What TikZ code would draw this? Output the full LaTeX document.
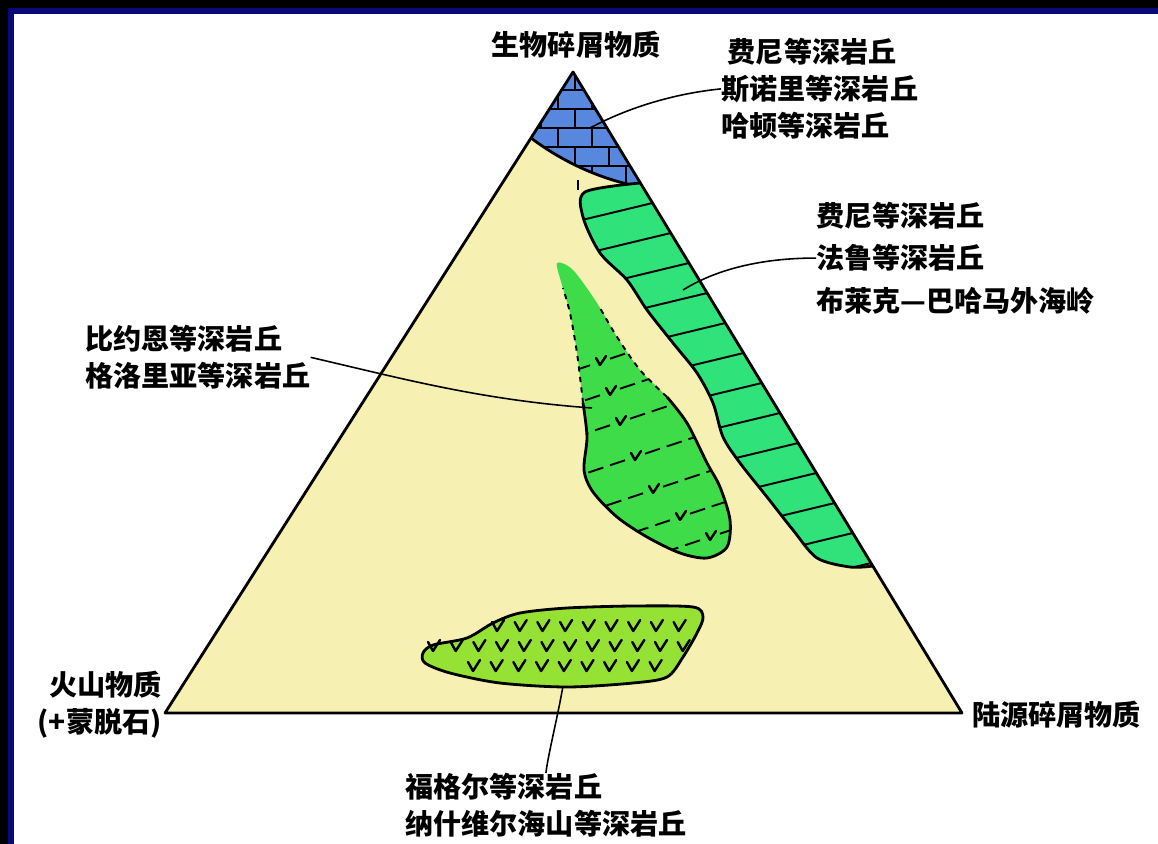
\documentclass[tikz,border=0pt]{standalone}
\usepackage{fontspec}
\newfontfamily\cjk{Noto Sans CJK SC}
\definecolor{sand}{RGB}{246,240,178}
\definecolor{brick}{RGB}{88,136,222}
\definecolor{bandgreen}{RGB}{48,226,122}
\definecolor{lobegreen}{RGB}{62,220,72}
\definecolor{limegreen}{RGB}{150,226,52}
\definecolor{framenavy}{RGB}{8,8,120}

\begin{document}
\begin{tikzpicture}[x=0.02cm, y=-0.02cm,
	lbl/.style={font=\fontsize{16}{21}\selectfont\cjk\bfseries, inner sep=0pt, align=left},
	edge/.style={line width=1.6pt, line join=round},
	thinedge/.style={line width=1.1pt},
	lead/.style={line width=0.9pt},
	vtick/.style={line width=1.4pt, line join=round, line cap=round}]
	\useasboundingbox (0,0) rectangle (1158,844);
	\fill[white] (0,0) rectangle (1158,844);
	% frame
	\fill[black] (0,0) rectangle (1158,8);
	\fill[black] (0,0) rectangle (8,844);
	\fill[framenavy] (8,8) rectangle (1158,14);
	\fill[framenavy] (8,8) rectangle (14,844);
	% triangle
	\fill[sand] (573,72) -- (962,713) -- (165,713) -- cycle;
	% bricks at the top
	\fill[brick] (573,72) -- (642,187) .. controls (600,180) and (560,160) .. (531,138) -- cycle;
	\begin{scope}
		\clip (573,72) -- (642,187) .. controls (600,180) and (560,160) .. (531,138) -- cycle;
		\foreach \r [count=\i] in {90,109,...,204}
		{\draw[thinedge] (500,\r) -- (700,\r);
		 \pgfmathsetmacro\off{mod(\i,2)*17}
		 \foreach \c in {490,524,...,700}
		 {\draw[thinedge] (\c+\off,\r) -- (\c+\off,\r-19);}}
	\end{scope}
	\draw[edge] (642,187) .. controls (600,180) and (560,160) .. (531,138);
	\draw[thinedge] (578,180) -- (578,190);
	% band along the right side
	\def\bandpath{plot[smooth] coordinates {(640,183) (585,192) (583,217) (600,253) (627,280) (647,310) (673,343) (697,373) (713,403) (723,437) (740,463) (767,497) (793,530) (817,558) (850,567) (873,566)} -- cycle}
	\fill[bandgreen] \bandpath;
	\begin{scope}
		\clip \bandpath;
		\foreach \s in {203,233,...,563}
		{\draw[thinedge] ({573+0.607*(\s-72)+10},\s-2.4) -- ++(-220,53);}
	\end{scope}
	\draw[edge] plot[smooth] coordinates {(640,183) (585,192) (583,217) (600,253) (627,280) (647,310) (673,343) (697,373) (713,403) (723,437) (740,463) (767,497) (793,530) (817,558) (850,567) (873,566)};
	% lobe in the middle
	\def\lobepath{plot[smooth cycle] coordinates {(557,263) (562,285) (570,313) (577,353) (583,403) (587,437) (584,470) (593,492) (617,517) (647,537) (680,553) (707,558) (727,547) (730,520) (720,487) (707,463) (687,423) (667,397) (640,370) (617,337) (597,303) (573,270)}}
	\fill[lobegreen] \lobepath;
	\begin{scope}
		\clip \lobepath;
		\foreach \x/\y in {600/362, 610/392, 620/422, 635/457, 653/490, 680/517, 710/537}
		{\draw[thinedge, dash pattern=on 9pt off 4pt] (\x-90,\y+30) -- (\x-10,\y+3.3);
		 \draw[thinedge, dash pattern=on 9pt off 4pt] (\x+10,\y-3.3) -- (\x+170,\y-56.7);
		 \draw[vtick] (\x-4,\y-4) -- (\x,\y+3) -- (\x+6,\y-6);}
	\end{scope}
	\draw[edge] plot[smooth] coordinates {(583,403) (587,437) (584,470) (593,492) (617,517) (647,537) (680,553) (707,558) (727,547) (730,520) (720,487) (707,463) (687,423) (667,397)};
	\draw[thinedge, dashed] plot[smooth] coordinates {(583,403) (577,353) (570,313) (563,288)};
	\draw[thinedge, dashed] plot[smooth] coordinates {(667,397) (640,370) (617,337) (600,308)};
	% lens at the bottom
	\filldraw[fill=limegreen, edge] plot[smooth cycle] coordinates {(423,653) (433,645) (467,638) (493,623) (520,613) (567,608) (633,606) (693,607) (703,617) (697,633) (683,657) (667,677) (633,683) (567,687) (500,683) (450,673) (425,663)};
	\foreach \y/\a/\n in {627/497/8, 647/433/11, 667/473/8}
	{\foreach \k in {0,...,\n}
	 {\pgfmathsetmacro\x{\a+22.7*\k}
	  \draw[vtick] (\x-5,\y-5) -- (\x,\y+4) -- (\x+7,\y-7);}}
	% outline of the triangle
	\draw[edge] (573,72) -- (962,713) -- (165,713) -- cycle;
	% texts
	\node[lbl] (bio) at (576,45) {生物碎屑物质};
	\node[lbl, anchor=west] (terr) at (972,715) {陆源碎屑物质};
	\node[lbl, anchor=east, align=right] (volc) at (162,705) {火山物质\\(+蒙脱石)};
	\node[lbl, anchor=north west] (feni1) at (721,38) {\ 费尼等深岩丘\\斯诺里等深岩丘\\哈顿等深岩丘};
	\node[lbl, anchor=north west, font=\fontsize{16}{24}\selectfont\cjk\bfseries] (feni2) at (816,202) {费尼等深岩丘\\法鲁等深岩丘\\布莱克—巴哈马外海岭};
	\node[lbl, anchor=north west] (bjorn) at (85,325) {比约恩等深岩丘\\格洛里亚等深岩丘};
	\node[lbl, anchor=north west] (feni3) at (405,773) {福格尔等深岩丘\\纳什维尔海山等深岩丘};
	% leaders
	\coordinate (inbrick) at (590,128);
	\coordinate (inband) at (683,290);
	\coordinate (inlobe) at (592,408);
	\coordinate (inlens) at (563,686);
	\draw[lead] (inbrick) .. controls (633,105) and (680,93) .. (feni1.west);
	\draw[lead] (inband) .. controls (715,270) and (760,258) .. (feni2.west);
	\draw[lead] (bjorn.east) .. controls (400,378) and (480,400) .. (inlobe);
	\draw[lead] (inlens) .. controls (557,720) and (548,755) .. (feni3.north);
\end{tikzpicture}
\end{document}
